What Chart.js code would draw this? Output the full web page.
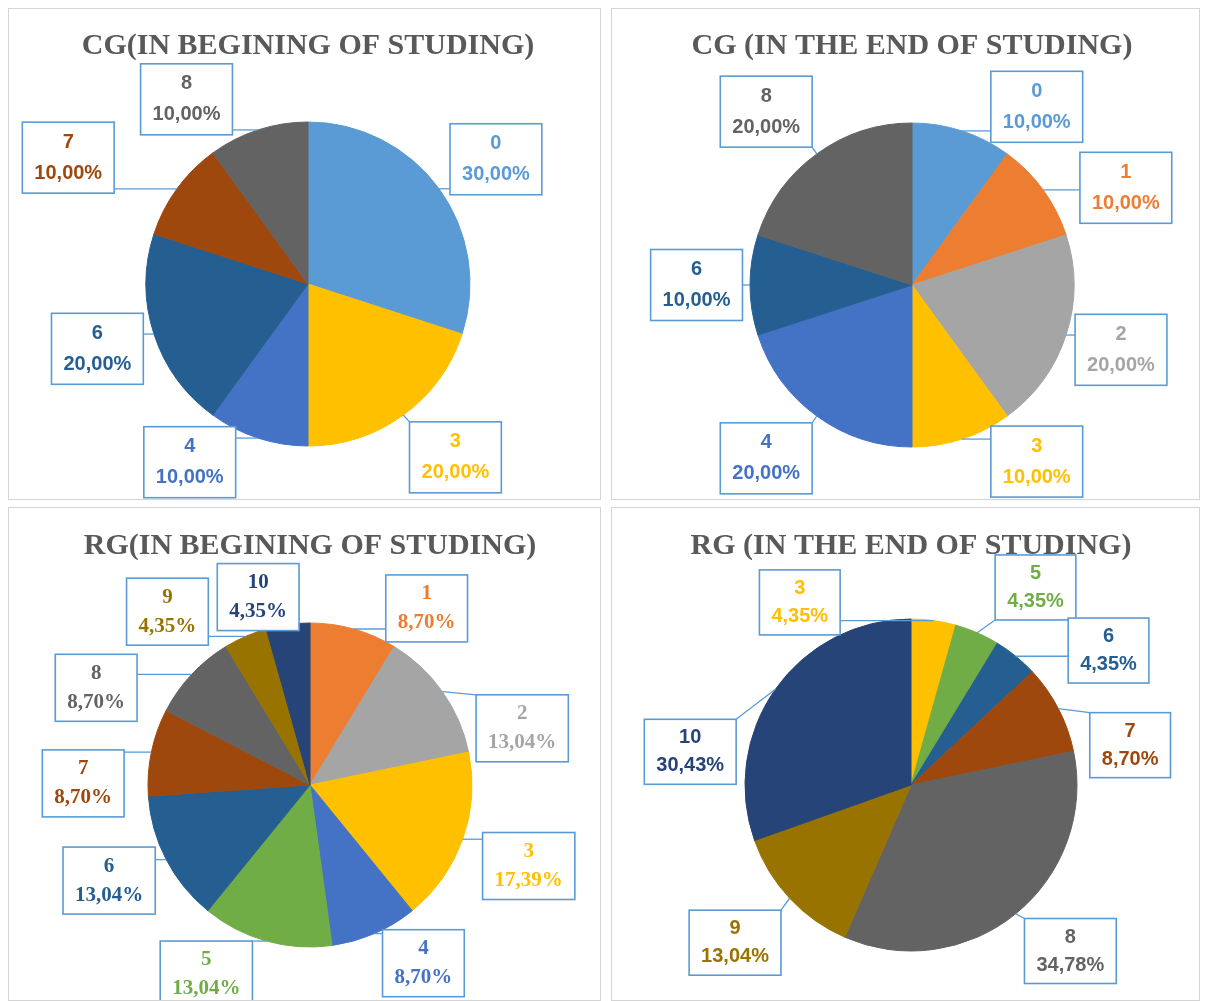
<!DOCTYPE html>
<html>
<head>
<meta charset="utf-8">
<script src="https://cdn.jsdelivr.net/npm/chart.js@4.4.0/dist/chart.umd.min.js"></script>
<style>
  body { margin: 0; background: #fff; width: 1206px; height: 1001px; overflow: hidden; position: relative; }
  .panel { position: absolute; border: 1px solid #d4d4d4; box-sizing: border-box; background: #fff; }
  .panel canvas { display: block; }
</style>
</head>
<body>
<div class="panel" style="left:8px;top:8px;width:593px;height:492px"><canvas id="c1" width="591" height="490"></canvas></div>
<div class="panel" style="left:611px;top:8px;width:589px;height:492px"><canvas id="c2" width="587" height="490"></canvas></div>
<div class="panel" style="left:8px;top:507px;width:593px;height:494px"><canvas id="c3" width="591" height="492"></canvas></div>
<div class="panel" style="left:611px;top:507px;width:589px;height:494px"><canvas id="c4" width="587" height="492"></canvas></div>
<script>
// grades and share of students (%)
const cgBeginCats = ['0', '3', '4', '6', '7', '8'];
const cgBeginVals = [30, 20, 10, 20, 10, 10];

const cgEndCats = ['0', '1', '2', '3', '4', '6', '8'];
const cgEndVals = [10, 10, 20, 10, 20, 10, 20];

const rgBeginCats = ['1', '2', '3', '4', '5', '6', '7', '8', '9', '10'];
const rgBeginVals = [8.70, 13.04, 17.39, 8.70, 13.04, 13.04, 8.70, 8.70, 4.35, 4.35];

const rgEndCats = ['3', '5', '6', '7', '8', '9', '10'];
const rgEndVals = [4.35, 4.35, 4.35, 8.70, 34.78, 13.04, 30.43];

// office palette, one colour per grade
const gradeColors = ['#5B9BD5', '#ED7D31', '#A5A5A5', '#FFC000', '#4472C4', '#70AD47',
  '#255E91', '#9E480E', '#636363', '#997300', '#264478'];

// callout box centres, relative to the pie centre in radius units
const cgBeginLabelPos = [[1.16, -0.77], [0.91, 1.07], [-0.73, 1.10], [-1.30, 0.40], [-1.48, -0.78], [-0.75, -1.14]];
const cgEndLabelPos = [[0.77, -1.10], [1.32, -0.60], [1.29, 0.40], [0.77, 1.09], [-0.90, 1.07], [-1.33, 0.0], [-0.90, -1.07]];
const rgBeginLabelPos = [[0.72, -1.09], [1.31, -0.35], [1.35, 0.50], [0.70, 1.10], [-0.64, 1.17],
  [-1.24, 0.59], [-1.40, -0.01], [-1.32, -0.60], [-0.88, -1.07], [-0.32, -1.16]];
const rgEndLabelPos = [[-0.67, -1.10], [0.75, -1.19], [1.19, -0.81], [1.32, -0.24], [0.96, 1.00], [-1.06, 0.95], [-1.33, -0.20]];

function callouts(cfg) {
  return {
    id: 'callouts',
    afterDatasetsDraw(chart) {
      const ctx = chart.ctx;
      const meta = chart.getDatasetMeta(0);
      const ds = chart.data.datasets[0];
      ctx.save();
      ctx.font = cfg.font;
      meta.data.forEach((arc, i) => {
        const p = arc.getProps(['x', 'y', 'startAngle', 'endAngle', 'outerRadius'], true);
        const mid = (p.startAngle + p.endAngle) / 2;
        const lines = [chart.data.labels[i], ds.data[i].toFixed(2).replace('.', ',') + '%'];
        const w = Math.max(...lines.map(t => ctx.measureText(t).width)) + 24;
        const h = 2 * cfg.lineGap + 9;
        const bx = p.x + cfg.pos[i][0] * p.outerRadius;
        const by = p.y + cfg.pos[i][1] * p.outerRadius;
        const x0 = bx - w / 2, y0 = by - h / 2;
        const ax = p.x + Math.cos(mid) * p.outerRadius;
        const ay = p.y + Math.sin(mid) * p.outerRadius;
        const qx = Math.min(Math.max(ax, x0), x0 + w);
        const qy = Math.min(Math.max(ay, y0), y0 + h);
        ctx.strokeStyle = '#5B9BD5';
        ctx.lineWidth = 1.3;
        ctx.beginPath();
        ctx.moveTo(ax, ay);
        ctx.lineTo(qx, qy);
        ctx.stroke();
        ctx.fillStyle = '#fff';
        ctx.fillRect(x0, y0, w, h);
        ctx.lineWidth = 1.6;
        ctx.strokeRect(x0, y0, w, h);
        ctx.fillStyle = ds.backgroundColor[i];
        ctx.textAlign = 'center';
        ctx.textBaseline = 'middle';
        ctx.fillText(lines[0], bx, by - cfg.lineGap / 2);
        ctx.fillText(lines[1], bx, by + cfg.lineGap / 2);
      });
      ctx.restore();
    }
  };
}

function makePie(id, title, cats, vals, c) {
  const canvas = document.getElementById(id);
  const W = canvas.width, H = canvas.height;
  const lh = 30 * 1.2;
  const padTop = c.titleY - lh / 2;
  const areaTop = 2 * c.cy - H;
  const colors = cats.map(k => gradeColors[+k]);
  return new Chart(canvas, {
    type: 'pie',
    data: {
      labels: cats,
      datasets: [{
        data: vals,
        backgroundColor: colors,
        borderColor: colors,
        borderWidth: 1,
        hoverOffset: 0,
        radius: c.r,
        clip: false
      }]
    },
    options: {
      responsive: false,
      animation: false,
      layout: {
        padding: { left: Math.max(0, 2 * c.cx - W), right: Math.max(0, W - 2 * c.cx), top: 0, bottom: 0 }
      },
      plugins: {
        legend: { display: false },
        tooltip: { enabled: false },
        title: {
          display: true,
          text: title,
          color: '#595959',
          font: { family: 'Liberation Serif', size: 30, weight: 'bold', lineHeight: 1.2 },
          padding: { top: padTop, bottom: areaTop - padTop - lh }
        }
      }
    },
    plugins: [callouts(c)]
  });
}

const sansFont = 'bold 20px "Liberation Sans"';
const serifFont = 'bold 21px "Liberation Serif"';

makePie('c1', 'CG(IN BEGINING OF STUDING)', cgBeginCats, cgBeginVals,
  { cx: 299, cy: 275, r: 162, titleY: 37, font: sansFont, lineGap: 31, pos: cgBeginLabelPos });
makePie('c2', 'CG (IN THE END OF STUDING)', cgEndCats, cgEndVals,
  { cx: 300, cy: 276, r: 162, titleY: 37, font: sansFont, lineGap: 31, pos: cgEndLabelPos });
makePie('c3', 'RG(IN BEGINING OF STUDING)', rgBeginCats, rgBeginVals,
  { cx: 301, cy: 277, r: 162, titleY: 38, font: serifFont, lineGap: 29, pos: rgBeginLabelPos });
makePie('c4', 'RG (IN THE END OF STUDING)', rgEndCats, rgEndVals,
  { cx: 299, cy: 277, r: 166, titleY: 38, font: sansFont, lineGap: 28, pos: rgEndLabelPos });
</script>
</body>
</html>
